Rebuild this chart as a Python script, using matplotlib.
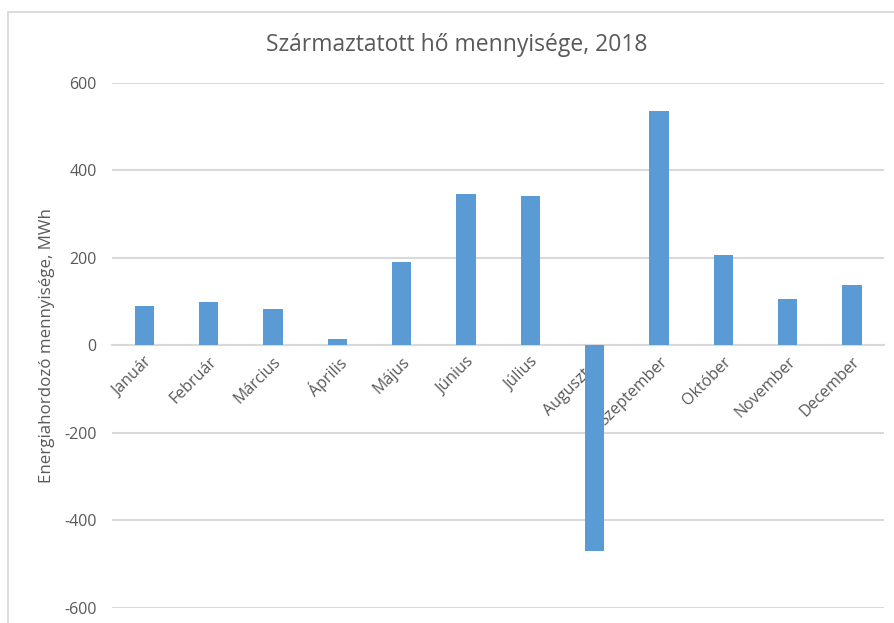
import matplotlib.pyplot as plt
from matplotlib.patches import Rectangle

plt.rcParams["font.family"] = ["Open Sans", "DejaVu Sans"]

BAR_BLUE = "#5b9bd5"
GRID_GRAY = "#d9d9d9"
TEXT_GRAY = "#595959"

months = [
    "Január", "Február", "Március", "Április", "Május", "Június",
    "Július", "Augusztus", "Szeptember", "Október", "November", "December",
]
heat_mwh = [90, 100, 83, 15, 191, 347, 341, -470, 535, 207, 106, 139]
y_ticks = [-600, -400, -200, 0, 200, 400, 600]

fig = plt.figure(figsize=(8.94, 6.23), dpi=100)
ax = fig.add_axes([0.1253, 0.0241, 0.8637, 0.8427])

# chart frame (cropped on the right and bottom)
fig.patches.append(
    Rectangle((8 / 894, -0.2), 1.2, 0.2 + 1 - 12 / 623,
              transform=fig.transFigure, fill=False,
              edgecolor=GRID_GRAY, linewidth=1.3)
)

x = list(range(len(months)))
ax.bar(x, heat_mwh, width=0.3, color=BAR_BLUE, zorder=3)

ax.set_xlim(-0.5, len(months) - 0.5)
ax.set_ylim(-600, 600)
ax.set_yticks(y_ticks)
ax.set_yticklabels([str(v) for v in y_ticks])
ax.yaxis.grid(True, color=GRID_GRAY, linewidth=1.5, zorder=0)
ax.set_axisbelow(True)

for side in ["top", "right", "left"]:
    ax.spines[side].set_visible(False)
ax.spines["bottom"].set_position(("data", 0))
ax.spines["bottom"].set_color(GRID_GRAY)
ax.spines["bottom"].set_linewidth(1.5)
ax.spines["bottom"].set_zorder(2)

ax.set_xticks(x)
ax.set_xticklabels(months, rotation=45, ha="right", rotation_mode="anchor")
ax.tick_params(axis="x", length=0, pad=6, labelsize=11.5, labelcolor=TEXT_GRAY)
ax.tick_params(axis="y", length=0, pad=11, labelsize=11.5, labelcolor=TEXT_GRAY)

ax.set_ylabel("Energiahordozó mennyisége, MWh", fontsize=12.2,
              color=TEXT_GRAY, labelpad=7)

fig.text(0.511, 0.928, "Származtatott hő mennyisége, 2018",
         ha="center", va="center", fontsize=16.5, color=TEXT_GRAY)

fig.savefig("out.png", dpi=100)
